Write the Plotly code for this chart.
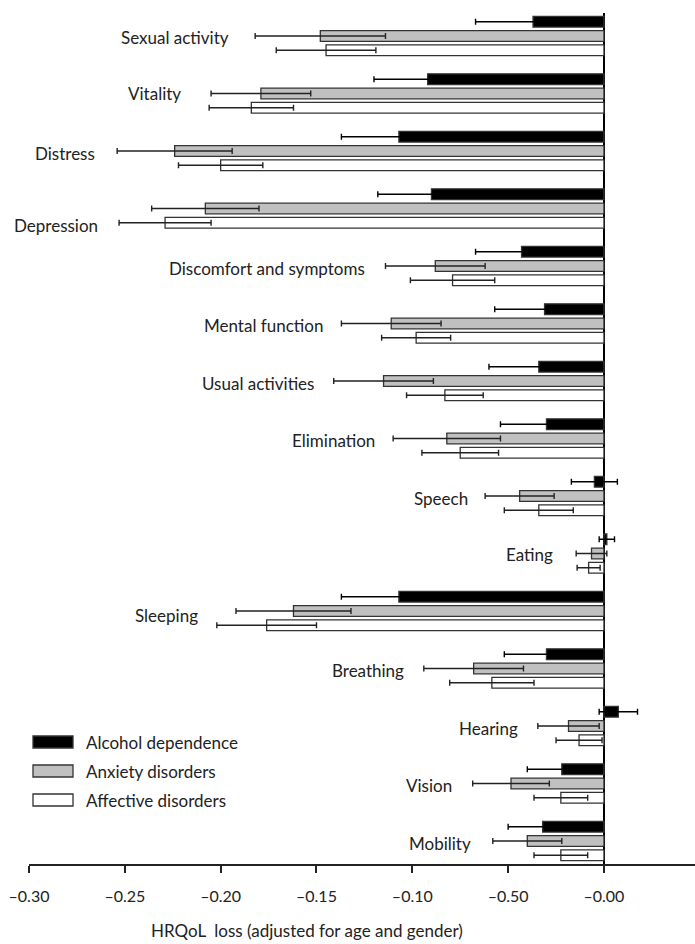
import plotly.graph_objects as go

categories = ["Sexual activity", "Vitality", "Distress", "Depression",
              "Discomfort and symptoms", "Mental function", "Usual activities",
              "Elimination", "Speech", "Eating", "Sleeping", "Breathing",
              "Hearing", "Vision", "Mobility"]

alcohol = [-0.037, -0.092, -0.107, -0.090, -0.043, -0.031, -0.034, -0.030,
           -0.005, 0.0015, -0.107, -0.030, 0.0075, -0.022, -0.032]
alcohol_err = [0.030, 0.028, 0.030, 0.028, 0.024, 0.026, 0.026, 0.024,
               0.012, 0.004, 0.030, 0.022, 0.010, 0.018, 0.018]
anxiety = [-0.148, -0.179, -0.224, -0.208, -0.088, -0.111, -0.115, -0.082,
           -0.044, -0.0065, -0.162, -0.068, -0.0185, -0.0485, -0.040]
anxiety_err = [0.034, 0.026, 0.030, 0.028, 0.026, 0.026, 0.026, 0.028,
               0.018, 0.008, 0.030, 0.026, 0.016, 0.020, 0.018]
affective = [-0.145, -0.184, -0.200, -0.229, -0.079, -0.098, -0.083, -0.075,
             -0.034, -0.008, -0.176, -0.0585, -0.013, -0.0225, -0.0225]
affective_err = [0.026, 0.022, 0.022, 0.024, 0.022, 0.018, 0.020, 0.020,
                 0.018, 0.006, 0.026, 0.022, 0.012, 0.014, 0.014]

series_names = ["Alcohol dependence", "Anxiety disorders", "Affective disorders"]

tick_vals = [-0.30, -0.25, -0.20, -0.15, -0.10, -0.05, 0.0]
tick_text = ["\u20130.30", "\u20130.25", "\u20130.20", "\u20130.15", "\u20130.10",
             "\u20130.50", "\u20130.00"]

x_title = "HRQoL  loss (adjusted for age and gender)"

# label anchor (right end) positions and vertical pixel nudges
label_x = [-0.1945, -0.2195, -0.2646, -0.263, -0.1236, -0.1457, -0.150, -0.1185,
           -0.0698, -0.0254, -0.211, -0.1033, -0.0439, -0.078, -0.0685]
label_dy = [1, 0, 2, 17, 2, 2, 2, 2, 2, 1, 4, 2, 2, 2, 2]

FONT = "Lato, 'Open Sans', sans-serif"
W, H = 695, 944
ML, MR, MT, MB = 29, 0, 13, 80
PW, PH = W - ML - MR, H - MT - MB

fills = ["#000000", "#c0c0c0", "#ffffff"]
err_colors = ["#000000", "#222222", "#222222"]
vals = [alcohol, anxiety, affective]
errs = [alcohol_err, anxiety_err, affective_err]

fig = go.Figure()
for name, v, e, c, ec in zip(series_names, vals, errs, fills, err_colors):
    fig.add_trace(go.Bar(
        y=categories, x=v, orientation="h", name=name,
        marker=dict(color=c, line=dict(color="#333333", width=1.3)),
        error_x=dict(type="data", array=e, symmetric=True, color=ec,
                     thickness=1.4, width=3),
        showlegend=False,
    ))

annotations = []
for cat, lx, dy in zip(categories, label_x, label_dy):
    annotations.append(dict(x=lx, y=cat, xref="x", yref="y", text=cat,
                            showarrow=False, xanchor="right", yanchor="middle",
                            yshift=-dy, font=dict(family=FONT, size=17, color="#222")))

annotations.append(dict(x=-0.155, y=-(930 - MT - PH) / PH, xref="x", yref="paper",
                        text=x_title, showarrow=False, xanchor="center",
                        yanchor="middle", font=dict(family=FONT, size=17, color="#222")))

def pxx(x):
    return (x - ML) / PW

def pxy(y):
    return (MT + PH - y) / PH

shapes = []
leg_y = [742, 771, 800]
for name, c, yc in zip(series_names, fills, leg_y):
    shapes.append(dict(type="rect", xref="paper", yref="paper",
                       x0=pxx(33), x1=pxx(73), y0=pxy(yc + 6), y1=pxy(yc - 6),
                       fillcolor=c, line=dict(color="#333333", width=1.3)))
    annotations.append(dict(x=pxx(84), y=pxy(yc), xref="paper", yref="paper",
                            text=name, showarrow=False, xanchor="left",
                            yanchor="middle", font=dict(family=FONT, size=17, color="#222")))

fig.update_layout(
    width=W, height=H,
    margin=dict(l=ML, r=MR, t=MT, b=MB),
    paper_bgcolor="white", plot_bgcolor="white",
    barmode="group", bargap=0.255, bargroupgap=0.25,
    font=dict(family=FONT, size=15, color="#222"),
    xaxis=dict(range=[-0.3, 0.0475], tickvals=tick_vals, ticktext=tick_text,
               showgrid=False, zeroline=True, zerolinecolor="black",
               zerolinewidth=2, showline=True, linecolor="#222", linewidth=1.5,
               ticks="outside", ticklen=7, tickwidth=1.5, tickcolor="#222",
               ticklabelstandoff=10, tickfont=dict(family=FONT, size=16)),
    yaxis=dict(type="category", categoryorder="array", categoryarray=categories,
               range=[14.4, -0.4], showticklabels=False, showgrid=False,
               zeroline=False, showline=False, ticks=""),
    annotations=annotations, shapes=shapes,
)

fig.write_html("out.html", config={"displayModeBar": False},
               post_script="document.body.style.margin='0';document.body.style.overflow='hidden';")
